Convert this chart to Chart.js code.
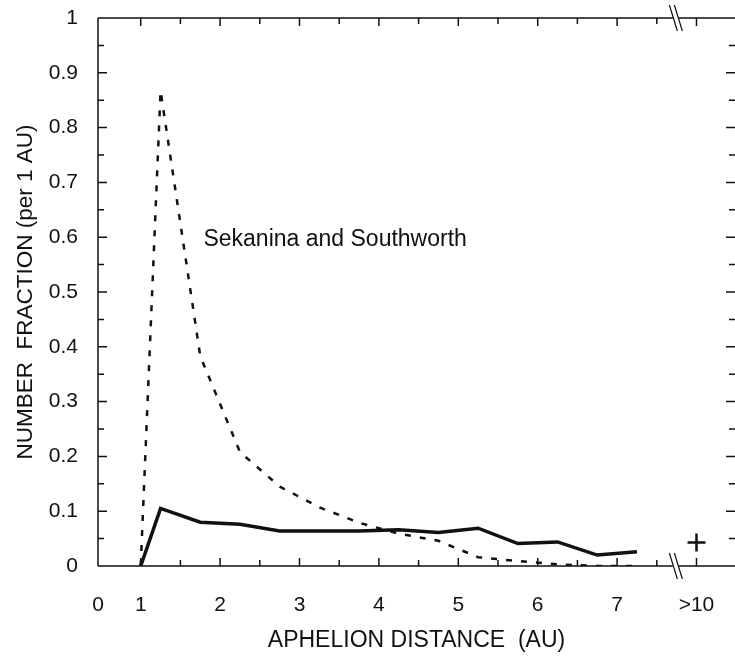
<!DOCTYPE html>
<html lang="en">
<head>
<meta charset="UTF-8" />
<title>Aphelion distance distribution</title>
<style>
  body { margin: 0; background: #fff; }
  canvas { display: block; }
</style>
</head>
<body>
<canvas id="chart" width="735" height="660"></canvas>
<script src="https://cdn.jsdelivr.net/npm/chart.js"></script>
<script>
  // aphelion bins (AU), half-AU bins
  const aphelion = [1, 1.25, 1.75, 2.25, 2.75, 3.25, 3.75, 4.25, 4.75, 5.25, 5.75, 6.25, 6.75, 7.25];
  const thisWork = [0, 0.105, 0.080, 0.076, 0.064, 0.064, 0.064, 0.066, 0.061, 0.069, 0.041, 0.044, 0.020, 0.026];
  const sekanina = [0, 0.867, 0.383, 0.208, 0.145, 0.107, 0.079, 0.059, 0.046, 0.016, 0.009, 0.003, 0, 0];
  // the ">10 AU" bin sits after the axis break, at position 8
  const farBin = [{ x: 8, y: 0.043 }];

  const xTickValues = [0.462, 1, 2, 3, 4, 5, 6, 7, 8];
  const xTickLabels = ['0', '1', '2', '3', '4', '5', '6', '7', '>10'];

  const ink = '#111';
  Chart.defaults.font.family = '"Liberation Sans", Arial, sans-serif';
  Chart.defaults.color = ink;

  // axes frame, inward ticks and the broken axis marks
  const frame = {
    id: 'frame',
    beforeDatasetsDraw(chart) {
      const { ctx, chartArea: a, scales: { x, y } } = chart;
      const bx = x.getPixelForValue(7.74);
      ctx.save();
      ctx.strokeStyle = ink;
      ctx.lineWidth = 1.5;
      ctx.beginPath();
      ctx.moveTo(a.left, a.top);
      ctx.lineTo(a.left, a.bottom);
      [a.top, a.bottom].forEach(py => {
        ctx.moveTo(a.left, py); ctx.lineTo(bx - 3, py);
        ctx.moveTo(bx + 3, py); ctx.lineTo(a.right, py);
      });
      // x ticks every half AU, up from the bottom and down from the top
      for (let v = 1; v <= 8; v += 0.5) {
        const px = x.getPixelForValue(v);
        const len = Number.isInteger(v) ? 8 : 6;
        ctx.moveTo(px, a.bottom); ctx.lineTo(px, a.bottom - len);
        ctx.moveTo(px, a.top); ctx.lineTo(px, a.top + len);
      }
      // y ticks every 0.05, both sides
      for (let i = 1; i < 20; i++) {
        const py = y.getPixelForValue(i * 0.05);
        const len = i % 2 === 0 ? 9 : 6;
        ctx.moveTo(a.left, py); ctx.lineTo(a.left + len, py);
        ctx.moveTo(a.right, py); ctx.lineTo(a.right - len, py);
      }
      ctx.stroke();

      ctx.lineWidth = 1.2;
      ctx.beginPath();
      [a.top, a.bottom].forEach(py => {
        [-2.5, 2.5].forEach(d => {
          ctx.moveTo(bx + d - 4, py - 13);
          ctx.lineTo(bx + d + 4, py + 13);
        });
      });
      ctx.stroke();
      ctx.restore();
    },
    afterDatasetsDraw(chart) {
      const { ctx, scales: { x, y } } = chart;
      ctx.save();
      ctx.fillStyle = ink;
      ctx.font = '23px "Liberation Sans", Arial, sans-serif';
      ctx.textBaseline = 'middle';
      ctx.fillText('Sekanina and Southworth', x.getPixelForValue(1.79), y.getPixelForValue(0.595));
      ctx.restore();
    }
  };

  new Chart(document.getElementById('chart'), {
    type: 'line',
    data: {
      datasets: [
        {
          data: aphelion.map((v, i) => ({ x: v, y: thisWork[i] })),
          borderColor: ink,
          borderWidth: 3.5,
          pointRadius: 0,
          tension: 0
        },
        {
          data: aphelion.map((v, i) => ({ x: v, y: sekanina[i] })),
          borderColor: ink,
          borderWidth: 2.5,
          borderDash: [6, 9],
          pointRadius: 0,
          tension: 0
        },
        {
          type: 'scatter',
          data: farBin,
          pointStyle: 'cross',
          pointRadius: 9,
          borderWidth: 2.5,
          borderColor: ink
        }
      ]
    },
    options: {
      responsive: false,
      animation: false,
      layout: { autoPadding: false, padding: { top: 18, right: 0, left: 0, bottom: 0 } },
      plugins: { legend: { display: false }, tooltip: { enabled: false } },
      scales: {
        x: {
          type: 'linear',
          min: 0.462,
          max: 8.485,
          grid: { display: false, drawTicks: false },
          border: { display: false },
          afterBuildTicks: s => { s.ticks = xTickValues.map(value => ({ value })); },
          afterFit: s => { s.height = 94; s.paddingRight = 0; },
          ticks: {
            autoSkip: false,
            maxRotation: 0,
            padding: 27,
            font: { size: 21 },
            callback: (v, i) => xTickLabels[i]
          },
          title: {
            display: true,
            text: 'APHELION DISTANCE  (AU)',
            font: { size: 23 },
            padding: { top: 6, bottom: 6 }
          }
        },
        y: {
          min: 0,
          max: 1,
          grid: { display: false, drawTicks: false },
          border: { display: false },
          afterFit: s => { s.width = 98; s.paddingTop = 0; s.paddingBottom = 0; },
          ticks: {
            stepSize: 0.1,
            padding: 20,
            font: { size: 21 },
            callback: v => String(Math.round(v * 10) / 10)
          },
          title: {
            display: true,
            text: 'NUMBER  FRACTION (per 1 AU)',
            font: { size: 22.5 },
            padding: { top: 12, bottom: 12 }
          }
        }
      }
    },
    plugins: [frame]
  });
</script>
</body>
</html>
